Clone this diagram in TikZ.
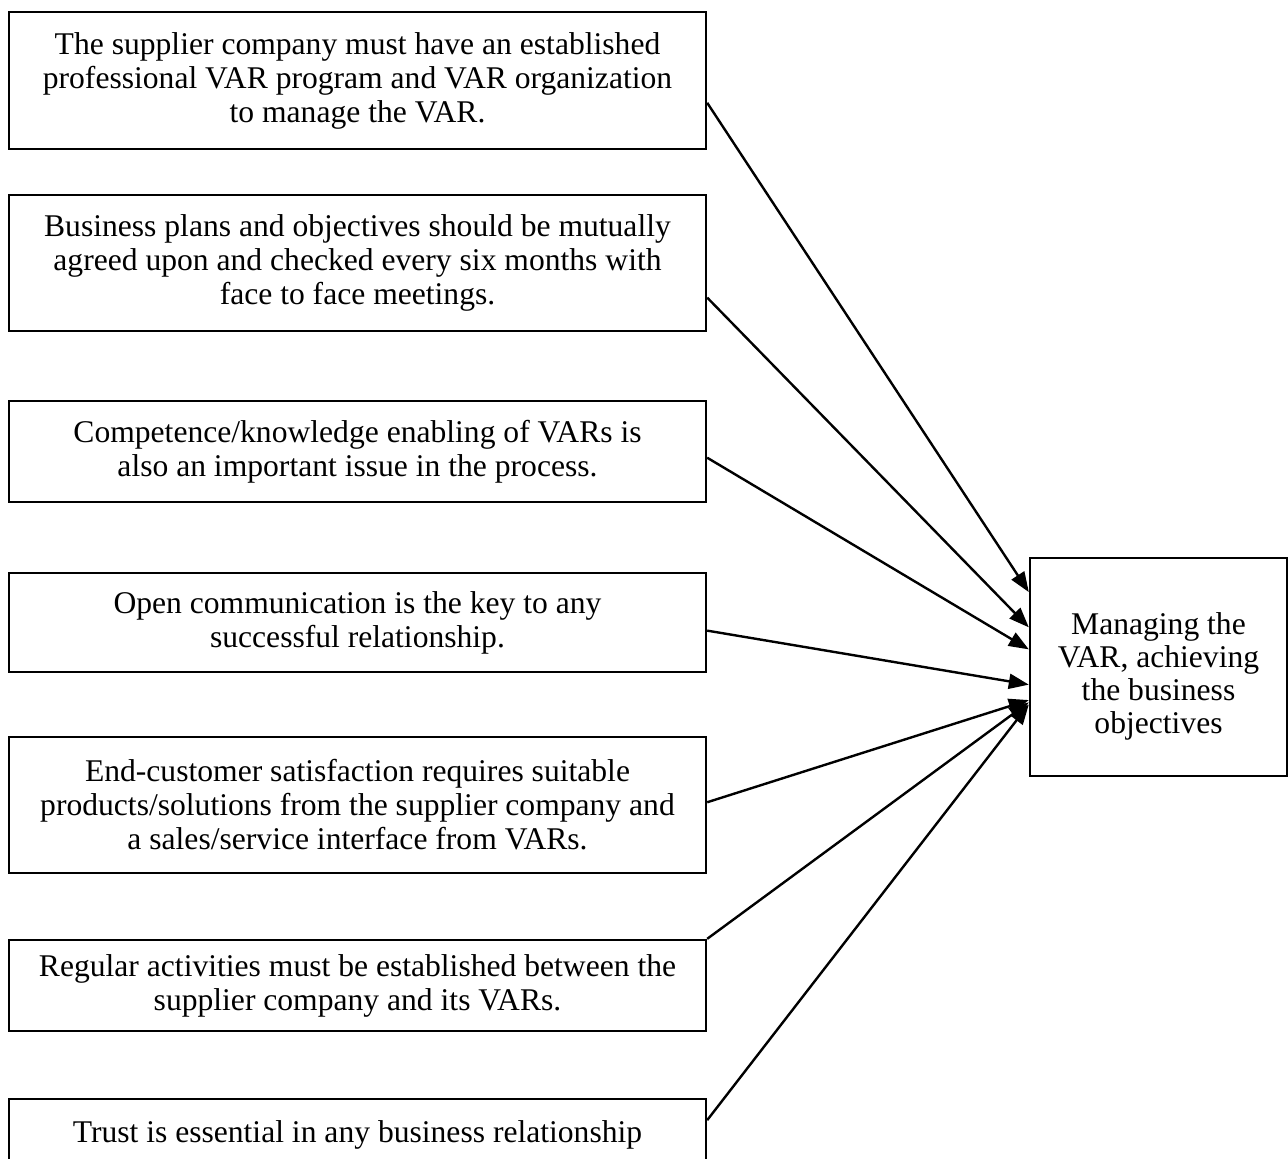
\documentclass[tikz,border=0pt]{standalone}
\usepackage{fontspec}
\setmainfont{Liberation Serif}
\usepackage{tikz}
\usetikzlibrary{calc}
\usetikzlibrary{arrows, arrows.meta}

\begin{document}
\begin{tikzpicture}[x=0.5pt, y=-0.5pt, line width=1.2pt,
  main/.style = {draw, align=center, inner sep=0pt, minimum width=348.5pt, font=\fontsize{15.8}{17}\selectfont},
  goal/.style = {draw, align=center, inner sep=0pt, minimum width=128.5pt, minimum height=109pt, font=\fontsize{15.8}{16.5}\selectfont},
  link/.style = {-{Triangle[length=10pt, width=7.5pt]}}]
  \useasboundingbox (0,0) rectangle (1288,1158);
  \clip (0,0) rectangle (1288,1158);
  %left boxes
  \node[main, minimum height=68.5pt] (prog) at (357.5, 80.5) {The supplier company must have an established\\professional VAR program and VAR organization\\to manage the VAR.};
  \node[main, minimum height=68pt] (plans) at (357.5, 263) {Business plans and objectives should be mutually\\agreed upon and checked every six months with\\face to face meetings.};
  \node[main, minimum height=50.5pt] (comp) at (357.5, 451.5) {Competence/knowledge enabling of VARs is\\also an important issue in the process.};
  \node[main, minimum height=49.5pt] (comm) at (357.5, 622.5) {Open communication is the key to any\\successful relationship.};
  \node[main, minimum height=68pt] (cust) at (357.5, 805) {End-customer satisfaction requires suitable\\products/solutions from the supplier company and\\a sales/service interface from VARs.};
  \node[main, minimum height=45.5pt] (act) at (357.5, 985.5) {Regular activities must be established between the\\supplier company and its VARs.};
  \node[main, minimum height=36pt] (trust) at (357.5, 1135) {Trust is essential in any business relationship};
  %right box
  \node[goal] (goal) at (1158.5, 667) {};
  \node[align=center, inner sep=0pt, font=\fontsize{15.8}{16.5}\selectfont] (goaltxt) at (1158.5, 676) {Managing the\\VAR, achieving\\the business\\objectives};
  %linking
  \draw[link] ($(prog.north east)!0.66!(prog.south east)$) -- ($(goal.north west)!0.16!(goal.south west)$);
  \draw[link] ($(plans.north east)!0.75!(plans.south east)$) -- ($(goal.north west)!0.32!(goal.south west)$);
  \draw[link] ($(comp.north east)!0.56!(comp.south east)$) -- ($(goal.north west)!0.42!(goal.south west)$);
  \draw[link] ($(comm.north east)!0.58!(comm.south east)$) -- ($(goal.north west)!0.58!(goal.south west)$);
  \draw[link] ($(cust.north east)!0.48!(cust.south east)$) -- ($(goal.north west)!0.65!(goal.south west)$);
  \draw[link] (act.north east) -- ($(goal.north west)!0.66!(goal.south west)$);
  \draw[link] ($(trust.north east)!0.3!(trust.south east)$) -- ($(goal.north west)!0.67!(goal.south west)$);
\end{tikzpicture}
\end{document}
